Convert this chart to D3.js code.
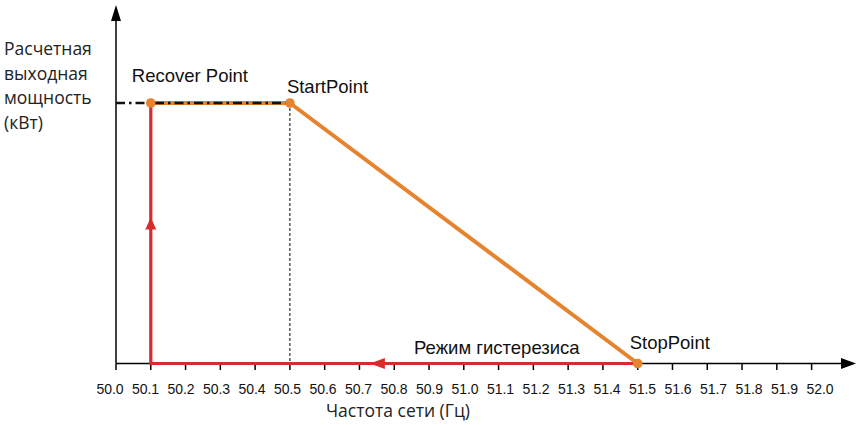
<!DOCTYPE html>
<html><head><meta charset="utf-8">
<script src="https://cdn.jsdelivr.net/npm/d3@7"></script>
<style>
html,body{margin:0;padding:0;background:#fff;}
svg{display:block;}
</style></head>
<body>
<svg id="c" width="858" height="425"></svg>
<script>
// ---- data ----
const xTickValues = [50.0,50.1,50.2,50.3,50.4,50.5,50.6,50.7,50.8,50.9,51.0,51.1,51.2,51.3,51.4,51.5,51.6,51.7,51.8,51.9,52.0];
const xTickLabels = ["50.0","50.1","50.2","50.3","50.4","50.5","50.6","50.7","50.8","50.9","51.0","51.1","51.2","51.3","51.4","51.5","51.6","51.7","51.8","51.9","52.0"];
const pointNames = ["Recover Point","StartPoint","StopPoint"];
const pointFreq  = [50.1, 50.5, 51.5];
const pointPower = [1, 1, 0];
const curveFreq  = [50.1, 50.5, 51.5];   // orange derating curve
const curvePower = [1, 1, 0];
const hystFreq   = [51.5, 50.1, 50.1];   // red hysteresis path
const hystPower  = [0, 0, 1];
const arrowFreq  = [50.1, 50.73];
const arrowPower = [0.56, 0];
const arrowDir   = ["up", "left"];
const yLabelLines = ["Расчетная","выходная","мощность","(кВт)"];
const xTitle = "Частота сети (Гц)";
const hystLabel = "Режим гистерезиса";

// ---- drawing ----
const svg = d3.select("#c");
const ORANGE = "#E5832E", RED = "#D82C2C";
const FONT_A = "'Liberation Sans', Arial, sans-serif";
const FONT_B = "'Open Sans', sans-serif";
const x = d3.scaleLinear().domain([50, 52]).range([116, 811.6]);
const xl = d3.scaleLinear().domain([50, 52]).range([110, 820]);
const y = d3.scaleLinear().domain([0, 1]).range([363.5, 103]);
const x0 = x(50), y0 = y(0);

// axes
svg.append("line").attr("x1", x0).attr("x2", 845).attr("y1", y0).attr("y2", y0)
  .attr("stroke", "#000").attr("stroke-width", 1.5);
svg.append("path").attr("d", `M856,${y0} L841,${y0-5.5} L841,${y0+5.5} Z`).attr("fill", "#000");
svg.append("line").attr("x1", x0).attr("x2", x0).attr("y1", y0).attr("y2", 18)
  .attr("stroke", "#000").attr("stroke-width", 1.5);
svg.append("path").attr("d", `M${x0},5 L${x0-5},21 L${x0+5},21 Z`).attr("fill", "#000");

// ticks
svg.selectAll(".tk").data(xTickValues).enter().append("line")
  .attr("x1", d => x(d)).attr("x2", d => x(d)).attr("y1", y0).attr("y2", y0 + 6.5)
  .attr("stroke", "#000").attr("stroke-width", 1.5);
svg.selectAll(".tl").data(xTickValues).enter().append("text")
  .attr("x", d => xl(d)).attr("y", 394).attr("text-anchor", "middle")
  .style("font-family", FONT_A).attr("font-size", 14).attr("fill", "#111")
  .text((d, i) => xTickLabels[i]);

// titles
svg.append("text").attr("x", 398).attr("y", 417).attr("text-anchor", "middle")
  .style("font-family", FONT_B).attr("font-size", 17.5).attr("fill", "#222").text(xTitle);
svg.selectAll(".yl").data(yLabelLines).enter().append("text")
  .attr("x", 4).attr("y", (d, i) => 55 + i * 24.5)
  .style("font-family", FONT_B).attr("font-size", 17.5).attr("fill", "#222").text(d => d);

// vertical thin dashed from StartPoint
svg.append("line").attr("x1", x(pointFreq[1])).attr("x2", x(pointFreq[1]))
  .attr("y1", y(pointPower[1])).attr("y2", y0)
  .attr("stroke", "#000").attr("stroke-width", 1).attr("stroke-dasharray", "3,2");

// red hysteresis path
const line = d3.line().x(d => x(d[0])).y(d => y(d[1]));
svg.append("path").datum(hystFreq.map((f, i) => [f, hystPower[i]]))
  .attr("d", line).attr("fill", "none").attr("stroke", RED).attr("stroke-width", 3.2);

// arrows on red path
arrowFreq.forEach((f, i) => {
  const ax = x(f), ay = y(arrowPower[i]);
  const d = arrowDir[i] === "up"
    ? `M${ax},${ay} L${ax-5.5},${ay+12} L${ax+5.5},${ay+12} Z`
    : `M${ax},${ay} L${ax+15},${ay-5.5} L${ax+15},${ay+5.5} Z`;
  svg.append("path").attr("d", d).attr("fill", RED);
});

// orange curve
svg.append("path").datum(curveFreq.map((f, i) => [f, curvePower[i]]))
  .attr("d", line).attr("fill", "none").attr("stroke", ORANGE).attr("stroke-width", 4)
  .attr("stroke-linejoin", "round");

// black dash-dot rated-power line
svg.append("line").attr("x1", x0).attr("x2", x(pointFreq[1]))
  .attr("y1", y(1)).attr("y2", y(1))
  .attr("stroke", "#111").attr("stroke-width", 2.4).attr("stroke-dasharray", "9,4,2.5,4");

// points
svg.selectAll(".pt").data(pointFreq).enter().append("circle")
  .attr("cx", d => x(d)).attr("cy", (d, i) => y(pointPower[i])).attr("r", 4.8).attr("fill", ORANGE);

// point labels
const labelOff = [[-19, -21.5], [-3, -10.5], [-8, -14.5]];
svg.selectAll(".pl").data(pointNames).enter().append("text")
  .attr("x", (d, i) => x(pointFreq[i]) + labelOff[i][0])
  .attr("y", (d, i) => y(pointPower[i]) + labelOff[i][1])
  .style("font-family", FONT_A).attr("font-size", 18.5).attr("fill", "#111")
  .text(d => d);

svg.append("text").attr("x", x(50.857)).attr("y", 354)
  .style("font-family", FONT_A).attr("font-size", 18.5).attr("fill", "#111")
  .text(hystLabel);
</script>
</body></html>
